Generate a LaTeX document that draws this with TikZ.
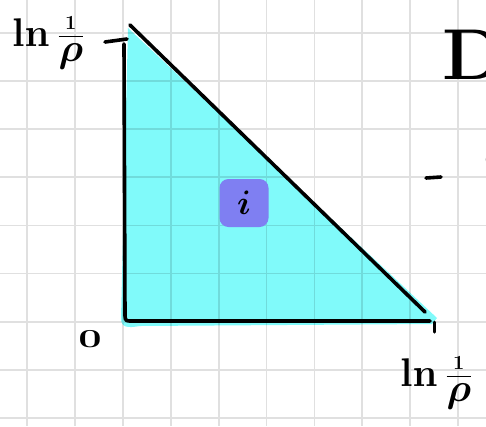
\documentclass[tikz,border=0pt]{standalone}
\usepackage{fix-cm}
\usepackage{tikz}
\usetikzlibrary{positioning}
\definecolor{sketchcyan}{HTML}{80FAFA}
\definecolor{sketchpurple}{HTML}{7F7FF2}
\definecolor{gridgray}{HTML}{E0E0E0}

\begin{document}
\begin{tikzpicture}[
  x=1pt, y=-1pt,
  gridline/.style={gridgray, line width=1.8pt},
  pen/.style={line width=3.6pt, line cap=round, line join=round},
  lbl/.style={inner sep=0pt, font=\fontsize{40}{44}\selectfont\boldmath},
  small/.style={inner sep=0pt, font=\fontsize{26}{30}\selectfont\bfseries},
  idxbox/.style={fill=sketchpurple, rounded corners=9pt, minimum width=49pt,
                 minimum height=48pt, inner sep=0pt, font=\fontsize{34}{38}\selectfont\boldmath}
]
  \useasboundingbox (0,0) rectangle (486,426);
  \clip (0,0) rectangle (486,426);
  \foreach \k in {0,...,9}
    \draw[gridline] ({27+47.9*\k},0) -- ({27+47.9*\k},426);
  \foreach \k in {0,...,8}
    \draw[gridline] (0,{33+48.1*\k}) -- (486,{33+48.1*\k});

  \coordinate (apex) at (130,25);
  \coordinate (origin) at (125,321);
  \coordinate (corner) at (430,321);

  \fill[sketchcyan, blend mode=multiply] (128,28) -- (121,318) .. controls (121,328) and (128,328) .. (140,326)
    -- (432,324) -- (437,318) -- cycle;

  \node[idxbox] (idx) at (244,203) {$i$};

  \draw[pen] (apex) -- (425,312);
  \draw[pen] (124,44) -- (125,316) .. controls (125,321) and (127,321) .. (131,321) -- (corner);
  \draw[pen] (105,42) -- (127,39);
  \draw[pen, line width=3pt] (434,322) -- (434,332);
  \draw[pen] (426,178) -- (441,177);

  \node[lbl, anchor=base west] (lnTop) at (12,46) {$\ln\frac{\scriptscriptstyle 1}{\textstyle\rho}$};
  \node[lbl, anchor=base west] (lnRight) at (400,386) {$\ln\frac{\scriptscriptstyle 1}{\textstyle\rho}$};
  \node[small] (zero) at (90,339) {\scalebox{1.6}[1]{0}};
  \node[inner sep=0pt, anchor=base west, font=\fontsize{72}{80}\selectfont\bfseries] (title) at (442,79) {D};
  \node[small, anchor=west] (cut) at (483,160) {(};
\end{tikzpicture}
\end{document}
